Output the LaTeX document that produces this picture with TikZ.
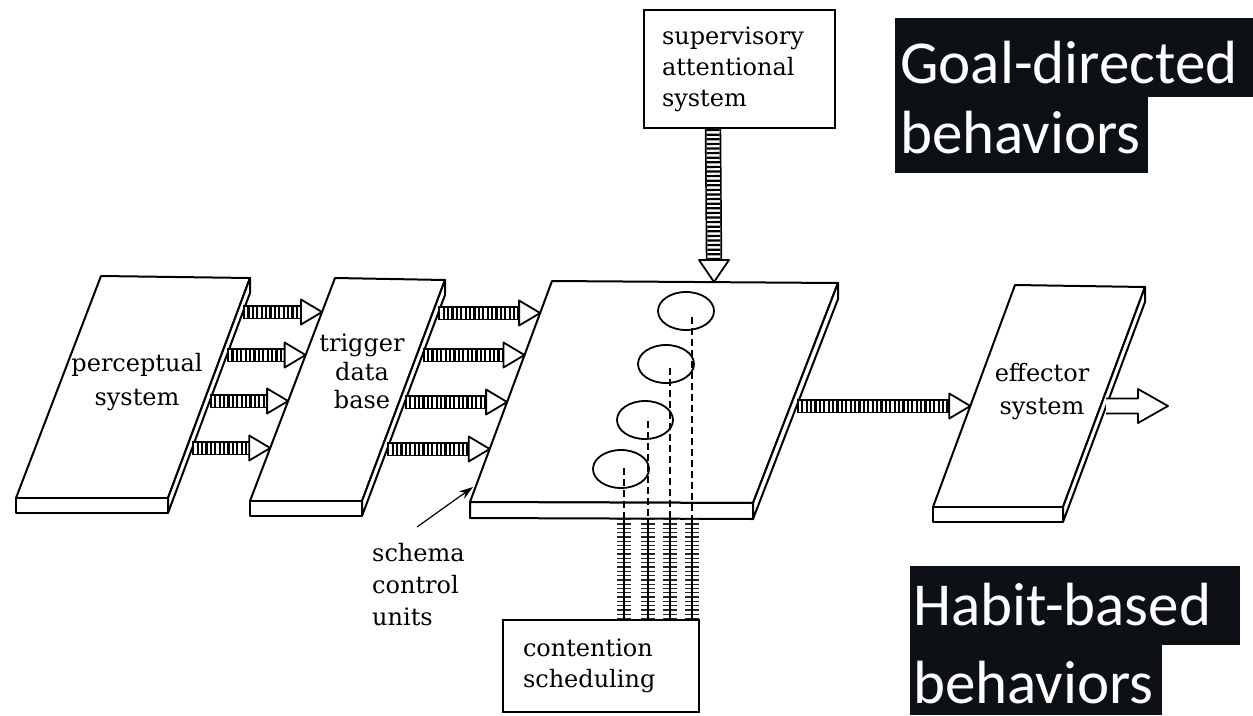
\documentclass[tikz,border=0pt]{standalone}
\usepackage{fontspec}
\newfontfamily\lblfont{Carlito}
\newfontfamily\diafont{DejaVu Serif}
\usetikzlibrary{calc,arrows.meta,shapes.geometric}
\definecolor{lblbg}{RGB}{13,17,22}
\tikzset{
  edge/.style={line width=2pt, line join=round},
  face/.style={edge, fill=white},
  rails/.style={line width=1.7pt, double distance=11pt, double=white},
  bars/.style={line width=11pt, dash pattern=on 2.2pt off 2.2pt},
  vrails/.style={line width=1.7pt, double distance=13pt, double=white},
  vbars/.style={line width=13pt, dash pattern=on 2.2pt off 2.4pt},
  headst/.style={line width=1.8pt, fill=white, line join=round},
  lbl/.style={font=\diafont\fontsize{24}{31}\selectfont, inner sep=0pt, align=center},
  boxst/.style={draw, line width=2pt, fill=white, inner xsep=18pt, align=left, font=\diafont\fontsize{24}{31}\selectfont},
  ell/.style={draw, ellipse, line width=1.8pt, minimum width=56pt, minimum height=38pt, inner sep=0pt},
  dashst/.style={line width=2pt, dash pattern=on 7pt off 4pt},
  stem/.style={line width=2pt},
  ticks/.style={line width=14pt, dash pattern=on 1.3pt off 3pt, black!85},
  bgst/.style={fill=lblbg},
  bigtext/.style={text=white, inner sep=0pt, anchor=base west, font=\lblfont\fontsize{61}{61}\selectfont},
}
\newcommand{\drawslab}[5]{%
  \draw[face] (#1) -- (#2) -- (#3) -- (#4) -- cycle;
  \draw[face] (#4) -- (#3) -- ($(#3)+(0,#5)$) -- ($(#4)+(0,#5)$) -- cycle;
  \draw[face] (#2) -- ($(#2)+(0,#5)$) -- ($(#3)+(0,#5)$) -- (#3) -- cycle;
}
\newcommand{\hatchright}[4]{%
  \draw[rails] (#1) -- ($(#2)+(-#3,0)$);
  \draw[bars] (#1) -- ($(#2)+(-#3,0)$);
  \draw[headst] (#2) -- ($(#2)+(-#3,-#4)$) -- ($(#2)+(-#3,#4)$) -- cycle;
}
\newcommand{\hatchdown}[4]{%
  \draw[vrails] (#1) -- ($(#2)+(0,-#3)$);
  \draw[vbars] (#1) -- ($(#2)+(0,-#3)$);
  \draw[headst] (#2) -- ($(#2)+(-#4,-#3)$) -- ($(#2)+(#4,-#3)$) -- cycle;
}
\begin{document}
\begin{tikzpicture}[x=1pt,y=-1pt]
\useasboundingbox (0,0) rectangle (1253,715);
\fill[white] (0,0) rectangle (1253,715);

% slab corners
\coordinate (pTL) at (101,276); \coordinate (pTR) at (250,278);
\coordinate (pBR) at (168,498); \coordinate (pBL) at (16,498);
\coordinate (tTL) at (335,278); \coordinate (tTR) at (445,280);
\coordinate (tBR) at (362,501); \coordinate (tBL) at (250,501);
\coordinate (sTL) at (552,281); \coordinate (sTR) at (838,283);
\coordinate (sBR) at (753,503); \coordinate (sBL) at (470,502);
\coordinate (eTL) at (1015,285); \coordinate (eTR) at (1145,287);
\coordinate (eBR) at (1063,507); \coordinate (eBL) at (933,507);

\drawslab{pTL}{pTR}{pBR}{pBL}{15}
\drawslab{tTL}{tTR}{tBR}{tBL}{15}
\drawslab{sTL}{sTR}{sBR}{sBL}{16}
\drawslab{eTL}{eTR}{eBR}{eBL}{15}

% texts on slabs
\node[lbl, font=\diafont\fontsize{24}{34}\selectfont] (perc) at (137,382) {perceptual\\system};
\node[lbl, font=\diafont\fontsize{24}{28.5}\selectfont] (trig) at (362,371.5) {trigger\\data\\base};
\node[lbl, font=\diafont\fontsize{24}{33}\selectfont] (eff) at (1042,391.5) {effector\\system};

% arrows perceptual -> trigger
\coordinate (pa1) at (242.9,312); \coordinate (pb1) at (322.0,312);
\coordinate (pa2) at (226.9,355); \coordinate (pb2) at (305.6,355);
\coordinate (pa3) at (209.7,401); \coordinate (pb3) at (288.1,401);
\coordinate (pa4) at (192.2,448); \coordinate (pb4) at (270.2,448);
\foreach \i in {1,2,3,4} {\hatchright{pa\i}{pb\i}{21}{12.5}}

% arrows trigger -> schema
\coordinate (ta1) at (438.2,313); \coordinate (tb1) at (540.1,313);
\coordinate (ta2) at (422.5,355); \coordinate (tb2) at (524.5,355);
\coordinate (ta3) at (404.8,402); \coordinate (tb3) at (507.1,402);
\coordinate (ta4) at (387.2,449); \coordinate (tb4) at (489.7,449);
\foreach \i in {1,2,3,4} {\hatchright{ta\i}{tb\i}{21}{12.5}}

% schema -> effector
\coordinate (sa) at (796.7,406); \coordinate (sb) at (970.3,406);
\hatchright{sa}{sb}{21}{12.5}

% effector output (open arrow)
\coordinate (ea) at (1106,406); \coordinate (eb) at (1168,406);
\draw[headst, fill=white] ($(ea)+(0,-7.5)$) -- ($(eb)+(-30,-7.5)$) -- ($(eb)+(-30,-17)$) -- (eb)
  -- ($(eb)+(-30,17)$) -- ($(eb)+(-30,7.5)$) -- ($(ea)+(0,7.5)$);

% supervisory attentional system
\node[boxst, text width=155pt, minimum height=118pt] (sup) at (739.5,69) {supervisory\\attentional\\system};
\coordinate (supout) at ($(sup.south west)+(70,0)$);
\coordinate (supin) at (714,282);
\hatchdown{supout}{supin}{22}{15}

% schema control units (ellipses)
\node[ell] (u1) at (686,311) {};
\node[ell] (u2) at (666,364) {};
\node[ell] (u3) at (645,420) {};
\node[ell] (u4) at (621,469) {};

% contention scheduling
\node[boxst, inner xsep=20pt, text width=156pt, minimum height=92pt] (cs) at (601,666) {contention\\scheduling};

% dashed and ticked lines
\coordinate (d1) at (691.5,317); \coordinate (d2) at (669.5,368);
\coordinate (d3) at (647.5,421); \coordinate (d4) at (623.5,468);
\foreach \i in {1,2,3,4} {
  \coordinate (f\i) at (d\i |- 0,519);
  \coordinate (g\i) at (d\i |- cs.north);
  \draw[dashst] (d\i) -- (f\i);
  \draw[ticks] (f\i) -- (g\i);
  \draw[stem] (f\i) -- (g\i);
}

% schema control units label
\node[lbl, align=left, anchor=west, font=\diafont\fontsize{24}{32}\selectfont] (scu) at (372,584.5) {schema\\control\\units};
\coordinate (scuarr) at (417,527);
\coordinate (slabedge) at (473,487);
\draw[line width=1.2pt, -{Stealth[length=14pt,width=9pt]}] (scuarr) -- (slabedge);

% black labels
\fill[bgst] (895,18) rectangle (1253,97);
\fill[bgst] (895,97) rectangle (1148,173);
\node[bigtext] (goal1) at (900,83) {Goal-directed};
\node[bigtext] (goal2) at (900,153) {behaviors};
\fill[bgst] (910,566) rectangle (1240,645);
\fill[bgst] (910,645) rectangle (1162,715);
\node[bigtext] (hab1) at (913,625) {Habit-based};
\node[bigtext] (hab2) at (913,703) {behaviors};
\end{tikzpicture}
\end{document}
